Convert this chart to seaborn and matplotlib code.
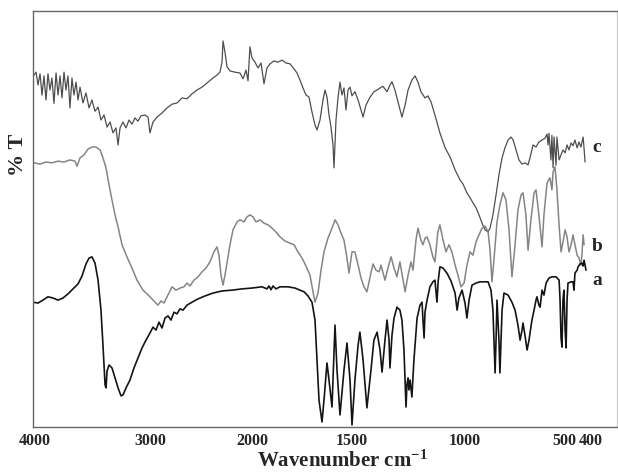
import numpy as np
import pandas as pd
import matplotlib
matplotlib.use("Agg")
import matplotlib.pyplot as plt
import matplotlib.transforms as mtransforms
import seaborn as sns

# ---------------- data (wavenumber cm-1, %T arbitrary offset) ----------------
c_wn = [3991, 3974, 3957, 3940, 3923, 3906, 3889, 3872, 3855, 3838, 3821, 3803, 3786, 3769, 3752, 3735,
        3718, 3701, 3684, 3667, 3650, 3632, 3615, 3598, 3573, 3547, 3521, 3496, 3470, 3444, 3419, 3393,
        3367, 3342, 3316, 3291, 3273, 3256, 3231, 3205, 3179, 3154, 3128, 3103, 3077, 3043, 3017, 3000,
        2971, 2931, 2882, 2833, 2784, 2735, 2686, 2637, 2588, 2539, 2490, 2441, 2392, 2343, 2314, 2294,
        2284, 2265, 2245, 2216, 2167, 2118, 2088, 2059, 2039, 2020, 2000, 1985, 1970, 1955, 1940, 1925,
        1910, 1890, 1870, 1850, 1830, 1810, 1790, 1775, 1760, 1745, 1730, 1715, 1700, 1685, 1675, 1660,
        1645, 1635, 1625, 1615, 1605, 1595, 1590, 1580, 1570, 1560, 1550, 1540, 1530, 1520, 1510, 1500,
        1487, 1473, 1460, 1451, 1438, 1420, 1403, 1389, 1376, 1363, 1345, 1332, 1323, 1310, 1296, 1279,
        1265, 1252, 1235, 1221, 1208, 1195, 1177, 1164, 1150, 1133, 1111, 1088, 1066, 1044, 1022, 1009,
        990, 974, 959, 943, 928, 912, 897, 881, 871, 856, 840, 825, 809, 794, 778, 763, 752, 737, 722,
        706, 691, 675, 665, 649, 634, 619, 603, 588, 577, 572, 567, 557, 552, 546, 541, 531, 526, 515,
        505, 496, 487, 479, 471, 462, 454, 446, 437, 429, 421, 412, 408, 404]
c_t = [84.6, 85.3, 82.2, 84.9, 79.8, 84.4, 78.6, 84.9, 81.0, 83.9, 77.8, 85.1, 79.8, 84.4, 79.1, 85.3,
       81.0, 84.4, 76.7, 83.9, 79.8, 82.9, 78.6, 81.7, 77.9, 80.3, 76.7, 78.6, 75.9, 76.9, 73.8, 75.0,
       72.1, 73.3, 70.7, 71.9, 67.8, 71.9, 73.3, 71.9, 73.8, 72.8, 74.3, 73.5, 74.8, 75.0, 74.5, 70.7,
       73.3, 74.5, 75.5, 76.7, 77.6, 77.9, 79.1, 78.9, 80.1, 81.0, 81.7, 82.7, 83.7, 84.6, 85.3, 87.7,
       92.8, 90.1, 86.6, 85.6, 85.3, 85.1, 83.7, 85.8, 83.2, 91.4, 88.7, 87.7, 86.3, 87.5, 82.5, 86.3,
       87.3, 88.0, 87.7, 88.2, 87.5, 87.3, 86.1, 85.1, 83.4, 81.5, 79.8, 79.3, 75.7, 72.6, 71.4, 73.8,
       78.6, 81.0, 79.3, 75.0, 72.1, 67.8, 62.3, 73.8, 79.1, 82.9, 79.8, 81.5, 76.2, 81.0, 81.7, 79.6,
       80.6, 78.6, 76.2, 74.5, 77.4, 79.3, 80.6, 81.0, 81.5, 81.9, 80.6, 82.2, 83.0, 81.0, 78.1, 74.5,
       77.4, 81.0, 83.4, 84.4, 82.9, 80.6, 79.1, 79.6, 78.1, 75.0, 70.7, 67.1, 64.9, 61.8, 59.4, 58.4,
       56.3, 55.1, 53.9, 52.7, 51.0, 49.0, 47.4, 46.9, 47.8, 51.0, 55.8, 60.6, 64.7, 67.1, 69.0, 69.7,
       69.0, 66.6, 64.2, 63.2, 63.5, 63.0, 64.7, 67.8, 67.3, 68.5, 69.0, 69.4, 70.4, 67.8, 70.6, 64.2,
       70.1, 62.3, 69.7, 62.9, 69.7, 64.2, 65.4, 66.6, 65.9, 67.8, 66.6, 68.3, 67.6, 69.0, 67.1, 68.5,
       67.3, 69.7, 66.9, 63.7]

b_wn = [3991, 3940, 3889, 3838, 3786, 3735, 3684, 3641, 3624, 3598, 3564, 3530, 3496, 3462, 3427, 3402,
        3376, 3350, 3325, 3299, 3273, 3239, 3197, 3154, 3111, 3060, 3000, 2951, 2922, 2892, 2863, 2824,
        2784, 2745, 2706, 2667, 2637, 2608, 2569, 2529, 2490, 2451, 2412, 2373, 2343, 2324, 2304, 2284,
        2265, 2245, 2216, 2186, 2147, 2118, 2078, 2049, 2020, 1995, 1980, 1960, 1940, 1920, 1900, 1875,
        1860, 1835, 1810, 1790, 1770, 1750, 1730, 1710, 1695, 1685, 1670, 1655, 1640, 1620, 1600, 1585,
        1570, 1555, 1540, 1525, 1515, 1500, 1487, 1473, 1460, 1447, 1434, 1420, 1407, 1394, 1380, 1372,
        1354, 1341, 1327, 1314, 1301, 1288, 1274, 1265, 1252, 1239, 1230, 1217, 1208, 1195, 1186, 1177,
        1168, 1155, 1142, 1133, 1120, 1111, 1097, 1084, 1071, 1058, 1044, 1031, 1018, 1004, 990, 974,
        959, 943, 928, 912, 897, 881, 871, 861, 851, 835, 820, 804, 789, 773, 758, 742, 727, 711, 701,
        686, 675, 660, 644, 634, 619, 603, 593, 577, 562, 552, 546, 536, 526, 515, 505, 496, 487, 479,
        471, 462, 454, 446, 437, 429, 421, 417, 412, 408]
b_t = [63.5, 63.2, 63.7, 63.5, 63.9, 63.7, 64.2, 63.9, 62.7, 64.7, 65.4, 66.8, 67.3, 67.3, 66.6, 64.7,
       62.3, 58.2, 54.6, 51.0, 48.1, 43.8, 40.9, 38.2, 35.3, 32.9, 31.3, 30.0, 29.3, 30.3, 29.8, 31.7,
       33.7, 32.9, 33.4, 33.7, 34.6, 33.9, 35.3, 36.1, 37.3, 38.2, 39.7, 42.1, 43.3, 41.3, 36.5, 34.1,
       36.5, 39.4, 43.8, 47.4, 49.3, 49.8, 49.3, 50.5, 51.0, 50.5, 49.3, 49.8, 49.0, 48.6, 47.8, 46.6,
       45.7, 44.7, 44.2, 43.8, 42.1, 40.6, 38.7, 36.5, 32.5, 30.0, 32.2, 37.7, 42.1, 45.4, 47.8, 49.8,
       48.6, 46.6, 44.9, 40.6, 37.0, 42.1, 42.1, 38.9, 35.8, 33.7, 32.5, 36.1, 39.2, 37.7, 37.3, 38.9,
       35.3, 38.2, 40.9, 38.2, 36.1, 39.7, 35.3, 32.5, 36.5, 39.7, 37.7, 44.9, 47.8, 44.9, 43.8, 45.4,
       45.7, 43.8, 40.9, 39.7, 46.9, 48.6, 44.9, 42.1, 43.8, 42.1, 38.9, 36.5, 33.7, 34.6, 38.9, 42.1,
       41.3, 44.5, 46.2, 47.8, 48.3, 46.9, 42.5, 34.9, 40.1, 49.3, 53.4, 56.3, 54.6, 47.4, 36.1, 43.8,
       52.2, 55.8, 56.3, 51.0, 42.5, 49.8, 56.3, 57.0, 51.0, 43.3, 51.0, 58.7, 59.9, 57.0, 61.3, 62.5,
       57.0, 48.6, 42.1, 44.5, 47.4, 45.7, 42.1, 43.8, 46.2, 43.8, 41.3, 40.6, 38.9, 41.3, 46.2, 43.8]

a_wn = [4000, 3957, 3915, 3872, 3829, 3786, 3744, 3701, 3658, 3615, 3581, 3547, 3521, 3496, 3470, 3444,
        3419, 3402, 3384, 3376, 3367, 3350, 3325, 3299, 3273, 3248, 3231, 3205, 3171, 3137, 3103, 3068,
        3034, 3000, 2971, 2941, 2912, 2882, 2853, 2824, 2794, 2765, 2735, 2706, 2676, 2637, 2588, 2529,
        2461, 2382, 2294, 2196, 2098, 2000, 1950, 1925, 1915, 1905, 1895, 1880, 1860, 1820, 1785, 1760,
        1740, 1720, 1700, 1685, 1675, 1665, 1650, 1640, 1625, 1615, 1600, 1585, 1575, 1560, 1540, 1525,
        1510, 1500, 1487, 1473, 1465, 1451, 1434, 1416, 1403, 1389, 1376, 1367, 1354, 1345, 1336, 1332,
        1323, 1314, 1301, 1288, 1279, 1270, 1261, 1257, 1252, 1248, 1243, 1235, 1226, 1212, 1199, 1190,
        1186, 1181, 1177, 1168, 1155, 1142, 1133, 1124, 1119, 1111, 1097, 1080, 1062, 1044, 1035, 1027,
        1013, 1000, 990, 979, 964, 943, 923, 902, 881, 866, 856, 845, 840, 835, 825, 820, 809, 799, 778,
        758, 742, 727, 716, 706, 701, 691, 680, 670, 655, 644, 634, 629, 619, 613, 603, 593, 582, 567,
        552, 531, 515, 510, 505, 500, 496, 492, 487, 483, 479, 475, 462, 454, 450, 446, 437, 433, 425,
        417, 412, 408, 404, 400]
a_t = [30.0, 29.8, 30.5, 31.3, 31.0, 30.5, 31.0, 32.0, 33.2, 34.4, 36.3, 39.2, 40.6, 40.9, 39.4, 35.3,
       28.1, 19.7, 10.1, 9.4, 13.5, 14.9, 14.2, 11.8, 9.4, 7.5, 7.7, 9.4, 11.3, 14.2, 16.6, 19.0,
       20.9, 22.6, 24.0, 23.3, 25.2, 23.8, 26.2, 26.7, 25.7, 27.6, 27.2, 28.4, 28.1, 29.3, 30.0, 30.8,
       31.5, 32.2, 32.7, 32.9, 33.2, 33.4, 33.7, 33.2, 33.9, 33.0, 33.9, 33.2, 33.7, 33.7, 33.4, 32.9,
       32.5, 31.5, 30.0, 25.7, 16.1, 6.5, 1.2, 6.5, 15.4, 11.3, 4.8, 24.5, 13.7, 2.9, 13.7, 20.2,
       11.3, 0.5, 11.3, 19.7, 22.8, 16.1, 4.6, 13.7, 20.9, 22.8, 18.5, 13.2, 20.9, 25.7, 20.9, 14.2,
       22.1, 26.2, 28.8, 28.1, 25.7, 18.5, 4.8, 10.1, 11.8, 8.9, 11.3, 7.2, 16.1, 26.2, 29.3, 30.0,
       25.7, 21.4, 27.6, 30.5, 33.7, 34.9, 35.3, 30.0, 34.9, 38.5, 38.2, 37.0, 35.1, 32.2, 28.1, 31.0,
       32.9, 29.8, 26.2, 30.5, 34.1, 34.6, 34.9, 34.9, 34.9, 32.9, 28.1, 13.0, 20.9, 30.5, 20.9, 13.0,
       28.1, 32.2, 31.7, 30.0, 28.1, 24.5, 20.9, 23.3, 25.0, 22.1, 18.5, 20.9, 25.7, 28.1, 30.5, 31.3,
       29.3, 28.8, 32.9, 31.7, 34.6, 35.8, 36.1, 36.1, 35.3, 30.5, 21.4, 19.2, 30.5, 32.9, 23.3, 19.0,
       30.5, 34.6, 34.9, 34.9, 32.9, 37.0, 37.7, 38.5, 39.2, 39.4, 38.7, 40.1, 38.9, 37.7]

tick_values = [4000, 3000, 2000, 1500, 1000, 500, 400]
tick_labels = ["4000", "3000", "2000", "1500", "1000", "500", "400"]
series_labels = ["c", "b", "a"]

# ---------------- style ----------------
sns.set_style("white")
plt.rcParams["font.family"] = ["Liberation Serif", "DejaVu Serif"]
plt.rcParams["mathtext.fontset"] = "custom"
plt.rcParams["mathtext.rm"] = "Liberation Serif:bold"
plt.rcParams["mathtext.it"] = "Liberation Serif:bold"
plt.rcParams["mathtext.bf"] = "Liberation Serif:bold"

fig = plt.figure(figsize=(6.18, 4.72), dpi=100)
ax = fig.add_axes([33 / 618, 45 / 472, 584 / 618, 416 / 472])

# piecewise-linear IR wavenumber scale (expanded below 2000 cm-1), increasing map
cal_wn = np.array([270, 400, 500, 1000, 1500, 2000, 3000, 4000], dtype=float)
cal_pos = -np.array([617, 586, 562, 465, 352, 252, 150, 33], dtype=float)


def fwd(w):
    return np.interp(np.asarray(w, dtype=float), cal_wn, cal_pos)


def inv(p):
    return np.interp(np.asarray(p, dtype=float), cal_pos, cal_wn)


ax.set_xscale("function", functions=(fwd, inv))

df_c = pd.DataFrame({"wn": c_wn, "T": c_t})
df_b = pd.DataFrame({"wn": b_wn, "T": b_t})
df_a = pd.DataFrame({"wn": a_wn, "T": a_t})

sns.lineplot(data=df_c, x="wn", y="T", ax=ax, color="#4e4e4e", lw=0.9, estimator=None, sort=False)
sns.lineplot(data=df_b, x="wn", y="T", ax=ax, color="#858585", lw=1.1, estimator=None, sort=False)
sns.lineplot(data=df_a, x="wn", y="T", ax=ax, color="#141414", lw=1.2, estimator=None, sort=False)

ax.set_xlim(4000, 270)
ax.set_ylim(0, 100)

ax.set_xticks(tick_values)
ax.set_xticklabels(tick_labels, fontsize=11.5, fontweight="bold")
ax.tick_params(axis="x", direction="in", length=5, width=1, color="#444444", pad=4.5)
ax.set_yticks([])

# small horizontal nudges so that "500 400" do not run together
nudges = {"4000": 2, "500": 2, "400": 5}
for lbl in ax.get_xticklabels():
    dx = nudges.get(lbl.get_text(), 0)
    if dx:
        lbl.set_transform(lbl.get_transform() +
                          mtransforms.ScaledTranslation(dx / 100, 0, fig.dpi_scale_trans))

for side in ["left", "top", "bottom"]:
    ax.spines[side].set_color("#666666")
    ax.spines[side].set_linewidth(1.0)
ax.spines["right"].set_color("#c8c8c8")
ax.spines["right"].set_linewidth(0.8)

ax.set_xlabel("Wavenumber cm$^{-1}$", fontsize=15, fontweight="bold")
ax.xaxis.set_label_coords(0.53, -0.057)
ax.set_ylabel("% T", fontsize=16, fontweight="bold")
ax.yaxis.set_label_coords(-0.008, 0.655)

# curve labels at the right end
label_y = [c_t[-1] + 3.5, b_t[-1] - 0.5, a_t[-1] - 2.6]
for lab, yv in zip(series_labels, label_y):
    ax.text(375, yv, lab, fontsize=14, fontweight="bold", va="center", ha="left")

fig.savefig("out.png", dpi=100)
